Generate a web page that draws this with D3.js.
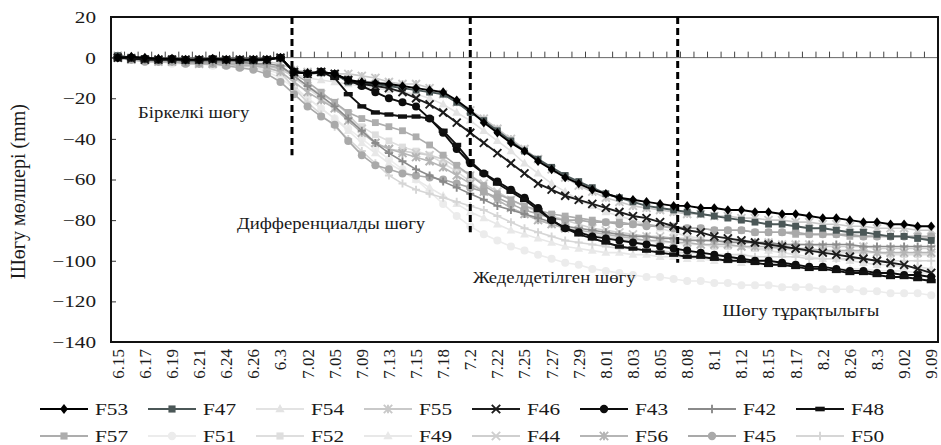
<!DOCTYPE html>
<html><head><meta charset="utf-8">
<script src="https://cdn.jsdelivr.net/npm/d3@7"></script>
<style>
body{margin:0;background:#fff}
svg{display:block}
svg text{font-family:"Liberation Serif","Times New Roman","DejaVu Serif",serif !important;fill:#1a1a1a}
</style>
</head><body>
<svg id="chart" width="941" height="445" font-family="Liberation Serif, Times New Roman, serif"></svg>
<script>
// ---------- DATA ----------
const categories = ["6.15","6.16","6.17","6.18","6.19","6.20","6.21","6.22","6.24","6.25","6.26","6.28","6.3","7.01","7.02","7.03","7.05","7.07","7.09","7.11","7.13","7.14","7.15","7.16","7.18","7.19","7.2","7.21","7.22","7.23","7.25","7.26","7.27","7.28","7.29","7.30","8.01","8.02","8.03","8.04","8.05","8.06","8.08","8.09","8.1","8.11","8.12","8.13","8.15","8.16","8.17","8.18","8.2","8.22","8.26","8.28","8.3","8.31","9.02","9.05","9.09"];
const tickLabels = ["6.15","6.17","6.19","6.21","6.24","6.26","6.3","7.02","7.05","7.09","7.13","7.15","7.18","7.2","7.22","7.25","7.27","7.29","8.01","8.03","8.05","8.08","8.1","8.12","8.15","8.17","8.2","8.26","8.3","9.02","9.09"];
const yTicks = [20,0,-20,-40,-60,-80,-100,-120,-140];

const F53 = [0,0.5,0,-0.5,-0.5,-1,-1,-0.5,-1,-1,-1,-1,0,-7,-7.5,-7,-8,-11,-12,-12.5,-13,-14,-15,-16,-17,-21,-26,-32,-37,-42,-46,-51,-55,-59,-62,-65,-67,-69,-70,-71,-72,-73,-73,-74,-74,-75,-75,-76,-76,-77,-77,-78,-79,-79,-80,-81,-81,-82,-82,-83,-83];
const F47 = [1,0,-0.5,-1,-1,-1.5,-1.5,-1,-1,-1.5,-1.5,-1,0,-7,-8,-7.5,-8,-12,-13,-13,-14,-15,-16,-17,-18,-22,-27,-31,-36,-41,-46,-50,-54,-58,-61,-64,-67,-69,-71,-73,-74,-75,-76,-77,-78,-79,-80,-81,-82,-82,-83,-84,-84,-85,-86,-86,-87,-88,-88,-89,-90];
const F54 = [0,-1,-1,-2,-2,-2,-3,-3,-3,-3,-4,-4,-5,-8,-10,-11,-12,-13,-14,-15,-16,-17,-18,-20,-23,-27,-31,-36,-41,-46,-52,-57,-62,-66,-70,-73,-76,-78,-80,-82,-84,-86,-88,-89,-91,-92,-93,-94,-95,-96,-97,-98,-99,-99,-100,-101,-102,-102,-103,-103,-104];
const F55 = [1,0,-1,-1,-1,-1,-2,-2,-2,-2,-2,-2,-3,-6,-7,-7,-8,-8,-9,-10,-12,-13,-13,-15,-18,-22,-26,-30,-35,-40,-45,-50,-55,-59,-63,-66,-69,-71,-73,-74,-75,-76,-77,-77,-78,-78,-79,-79,-80,-80,-81,-81,-82,-82,-83,-83,-84,-84,-84,-85,-85];
const F46 = [0,-0.5,-1,-1,-1,-1,-1,-1,-1,-1,-1,-1,0,-7,-8,-7,-8,-11,-13,-14,-15,-17,-20,-23,-27,-32,-37,-42,-47,-52,-57,-62,-65,-68,-70,-72,-74,-76,-78,-79,-81,-83,-85,-86,-88,-89,-90,-91,-92,-93,-94,-95,-96,-97,-98,-99,-100,-101,-102,-104,-106];
const F43 = [0,0,-0.5,-1,-0.5,-1,-1,-0.5,-1,-1,-1,-1,0,-7,-8,-7,-8,-11,-14,-17,-20,-22,-24,-30,-37,-45,-52,-57,-61,-65,-69,-74,-80,-84,-86,-88,-89,-90,-91,-92,-93,-94,-95,-96,-97,-98,-99,-100,-100,-101,-102,-103,-103,-104,-105,-105,-106,-106,-107,-107,-108];
const F42 = [0,0,-1,-1,-1,-2,-2,-2,-2,-2,-3,-3,-4,-9,-14,-19,-24,-30,-36,-42,-47,-51,-55,-58,-61,-64,-67,-70,-73,-75,-77,-79,-81,-83,-84,-85,-86,-87,-88,-88,-89,-89,-90,-90,-90,-91,-91,-91,-91,-92,-92,-92,-92,-92,-92,-93,-93,-93,-93,-93,-93];
const F48 = [0,-0.5,-1,-1,-1,-1,-1,-1,-1,-1,-1,-0.5,0,-7,-8,-7,-10,-18,-24,-27,-28,-29,-29,-30,-36,-43,-51,-57,-62,-66,-70,-75,-80,-84,-87,-89,-91,-93,-94,-95,-96,-97,-98,-98,-99,-100,-100,-101,-102,-102,-103,-104,-104,-105,-106,-106,-107,-108,-108,-109,-110];
const F57 = [1,0,-1,-1,-1,-2,-2,-2,-3,-3,-3,-4,-5,-8,-12,-17,-22,-27,-30,-32,-34,-36,-39,-43,-48,-53,-58,-63,-67,-70,-73,-75,-77,-78,-79,-80,-81,-81,-82,-82,-83,-83,-84,-84,-85,-85,-85,-86,-86,-86,-87,-87,-87,-87,-88,-88,-88,-88,-88,-89,-89];
const F51 = [0,-1,-2,-2,-3,-3,-3,-4,-4,-5,-5,-7,-10,-15,-20,-25,-30,-35,-40,-45,-50,-55,-60,-66,-72,-78,-83,-87,-90,-93,-95,-97,-99,-101,-102,-104,-105,-106,-107,-108,-108,-109,-110,-110,-111,-111,-112,-112,-112,-113,-113,-113,-114,-114,-114,-115,-115,-116,-116,-116,-117];
const F52 = [0,-1,-1,-1,-2,-2,-2,-3,-3,-3,-3,-4,-5,-10,-15,-20,-25,-30,-34,-38,-41,-44,-46,-48,-52,-56,-61,-66,-70,-74,-77,-80,-82,-84,-86,-87,-88,-89,-90,-90,-91,-91,-92,-92,-93,-93,-93,-94,-94,-94,-95,-95,-95,-96,-96,-96,-96,-97,-97,-97,-97];
const F49 = [0,-1,-1,-2,-2,-3,-3,-3,-4,-4,-5,-6,-8,-14,-20,-25,-30,-36,-42,-47,-52,-56,-60,-64,-68,-72,-76,-79,-82,-85,-87,-89,-91,-93,-94,-95,-96,-96,-97,-97,-98,-98,-99,-99,-100,-100,-101,-101,-102,-102,-103,-103,-103,-104,-104,-104,-105,-105,-105,-106,-106];
const F44 = [0,-1,-1,-1,-2,-2,-2,-3,-3,-3,-4,-4,-6,-9,-14,-18,-22,-28,-35,-42,-45,-46,-47,-48,-50,-54,-58,-62,-66,-70,-73,-76,-78,-80,-82,-84,-85,-86,-87,-88,-88,-89,-89,-90,-90,-90,-91,-91,-91,-92,-92,-92,-93,-93,-93,-93,-94,-94,-94,-94,-94];
const F56 = [0,-1,-1,-2,-2,-2,-3,-3,-3,-4,-4,-5,-7,-12,-17,-21,-25,-31,-37,-42,-45,-47,-49,-51,-54,-58,-62,-66,-70,-74,-77,-80,-82,-84,-85,-86,-87,-88,-89,-90,-90,-91,-91,-92,-92,-92,-93,-93,-93,-94,-94,-94,-95,-95,-95,-95,-96,-96,-96,-96,-96];
const F45 = [0,-1,-2,-2,-2,-3,-3,-3,-4,-5,-6,-8,-12,-18,-24,-29,-33,-41,-48,-53,-55,-57,-58,-59,-60,-62,-64,-66,-69,-72,-75,-77,-79,-80,-80,-81,-81,-82,-82,-83,-83,-84,-84,-84,-85,-85,-85,-86,-86,-86,-86,-87,-87,-87,-87,-88,-88,-88,-88,-88,-88];
const F50 = [0,-1,-1,-2,-2,-2,-3,-3,-3,-4,-4,-5,-7,-15,-22,-28,-34,-40,-46,-52,-58,-62,-65,-67,-69,-71,-73,-75,-78,-81,-84,-86,-88,-90,-91,-92,-93,-94,-94,-95,-95,-96,-96,-96,-97,-97,-97,-98,-98,-98,-98,-99,-99,-99,-99,-99,-100,-100,-100,-100,-100];

const seriesNames  = ["F53","F47","F54","F55","F46","F43","F42","F48","F57","F51","F52","F49","F44","F56","F45","F50"];
const seriesValues = [F53, F47, F54, F55, F46, F43, F42, F48, F57, F51, F52, F49, F44, F56, F45, F50];
const seriesColors = ["#000000","#4b5757","#e3e3e3","#c9c9c9","#1c1c1c","#0d0d0d","#8a8a8a","#111111","#adadad","#ececec","#dedede","#e8e8e8","#cfcfcf","#b5b5b5","#a9a9a9","#d6d6d6"];
const seriesMarkers = ["diamond","square","triangle","asterisk","times","circle","plus","dash","square","circle","square","triangle","times","asterisk","circle","plus"];

const phaseNames = ["Біркелкі шөгу","Дифференциалды шөгу","Жеделдетілген шөгу","Шөгу тұрақтылығы"];
const phaseBoundaries = ["7.01","7.2","8.06"];
const yTitle = "Шөгу мөлшері (mm)";

// ---------- LAYOUT ----------
const FONT = '"Liberation Serif","Times New Roman",serif';
const W = 941, H = 445;
const M = {left:111, right:3, top:17, bottom:103};
const svg = d3.select("#chart");
const x = d3.scaleBand().domain(categories).range([M.left, W - M.right]).padding(0);
const bw = x.bandwidth();
const xc = c => x(c) + bw/2;
const xi = i => M.left + (i + 0.5)*bw;
const y = d3.scaleLinear().domain([-140, 20]).range([H - M.bottom, M.top]);
const SX = 1.25;
const darkSet = ["F53","F47","F46","F43","F48"];

// zero line + category ticks
const y0 = y(0);
svg.append("line").attr("x1", M.left).attr("x2", W - M.right).attr("y1", y0).attr("y2", y0)
  .attr("stroke", "#666").attr("stroke-width", 1);
const bounds = categories.map(c => x(c)).concat([W - M.right]);
svg.append("g").selectAll("line").data(bounds).join("line")
  .attr("x1", d => d).attr("x2", d => d).attr("y1", y0).attr("y2", y0 - 6)
  .attr("stroke", "#444").attr("stroke-width", 1);

// y axis
const yAxis = d3.axisLeft(y).tickValues(yTicks).tickSizeInner(-5).tickSizeOuter(0).tickPadding(15)
  .tickFormat(d3.format("d"));
const gy = svg.append("g").attr("transform", `translate(${M.left},0)`).call(yAxis)
  .attr("font-family", FONT).attr("font-size", 17);
gy.select(".domain").remove();
gy.selectAll(".tick line").attr("stroke", "#333");
gy.selectAll(".tick text").attr("font-size", 17).attr("fill", "#1a1a1a").attr("font-family", FONT)
  .each(function(){
    const t = d3.select(this);
    const xx = +t.attr("x");
    t.attr("x", 0).attr("transform", `translate(${xx},0) scale(${SX},1)`);
  });

// x labels
svg.append("g").selectAll("text").data(categories.filter(c => tickLabels.includes(c))).join("text")
  .attr("transform", d => `translate(${xc(d)},${H - M.bottom + 7}) rotate(-90)`)
  .attr("text-anchor", "end").attr("dy", "0.35em").attr("font-size", 17).attr("font-family", FONT)
  .text(d => d);

// series
const line = d3.line().x((d, i) => xi(i)).y(d => y(d));
const drawOrder = ["F51","F49","F54","F52","F55","F50","F44","F56","F57","F45","F42","F47","F46","F43","F48","F53"];

function marker(g, type, color, cx, cy, s) {
  s = s || 1;
  if (type === "diamond") {
    g.append("path").attr("d", `M${cx},${cy-4.8*s}L${cx+3.8*s},${cy}L${cx},${cy+4.8*s}L${cx-3.8*s},${cy}Z`).attr("fill", color);
  } else if (type === "square") {
    g.append("rect").attr("x", cx-3.4*s).attr("y", cy-3.4*s).attr("width", 6.8*s).attr("height", 6.8*s).attr("fill", color);
  } else if (type === "triangle") {
    g.append("path").attr("d", `M${cx},${cy-4.8*s}L${cx+4.4*s},${cy+3.2*s}L${cx-4.4*s},${cy+3.2*s}Z`).attr("fill", color);
  } else if (type === "circle") {
    g.append("circle").attr("cx", cx).attr("cy", cy).attr("r", 4*s).attr("fill", color);
  } else if (type === "dash") {
    g.append("rect").attr("x", cx-4.5*s).attr("y", cy-2.2*s).attr("width", 9*s).attr("height", 4.4*s).attr("fill", color);
  } else {
    const r = 4*s;
    let d = "";
    if (type === "plus") d = `M${cx-r},${cy}H${cx+r}M${cx},${cy-r}V${cy+r}`;
    if (type === "times") d = `M${cx-r},${cy-r}L${cx+r},${cy+r}M${cx-r},${cy+r}L${cx+r},${cy-r}`;
    if (type === "asterisk") d = `M${cx-r},${cy-r}L${cx+r},${cy+r}M${cx-r},${cy+r}L${cx+r},${cy-r}M${cx},${cy-r}V${cy+r}`;
    g.append("path").attr("d", d).attr("stroke", color).attr("stroke-width", 1.9).attr("fill", "none");
  }
}

const plot = svg.append("g");
drawOrder.forEach(name => {
  const k = seriesNames.indexOf(name);
  const vals = seriesValues[k];
  const g = plot.append("g");
  g.append("path").datum(vals).attr("d", line).attr("fill", "none")
    .attr("stroke", seriesColors[k]).attr("stroke-width", darkSet.includes(name) ? 1.9 : 1.6);
  vals.forEach((v, i) => marker(g, seriesMarkers[k], seriesColors[k], xi(i), y(v), 1));
});

// frame
svg.append("rect").attr("x", M.left).attr("y", M.top)
  .attr("width", W - M.right - M.left).attr("height", H - M.bottom - M.top)
  .attr("fill", "none").attr("stroke", "#111").attr("stroke-width", 2);

// phase dashed lines
const phaseOffsets = [-0.15, 0, 0.3];
const phaseEnds = [-48, -86, -101];
phaseBoundaries.forEach((c, j) => {
  const px = xc(c) + phaseOffsets[j]*bw;
  svg.append("line").attr("x1", px).attr("x2", px).attr("y1", M.top).attr("y2", y(phaseEnds[j]))
    .attr("stroke", "#000").attr("stroke-width", 3).attr("stroke-dasharray", "7,4");
});

// phase labels
const phasePos = [[1.5, -27], [8.8, -81.5], [26.2, -108], [44.6, -124.4]];
phaseNames.forEach((t, j) => {
  svg.append("text").attr("transform", `translate(${xi(phasePos[j][0])},${y(phasePos[j][1])}) scale(1.1,1)`)
    .attr("dy", "0.35em").attr("font-size", 17).attr("font-family", FONT).text(t);
});

// y title
svg.append("text").attr("transform", `translate(18,${y(-66)}) rotate(-90)`)
  .attr("text-anchor", "middle").attr("dy", "0.35em").attr("font-size", 20).attr("font-family", FONT).text(yTitle);

// legend
const legend = svg.append("g");
seriesNames.forEach((name, k) => {
  const col = k % 8, row = Math.floor(k / 8);
  const lx = 40 + col*108, ly = 409 + row*27;
  const g = legend.append("g");
  g.append("line").attr("x1", lx).attr("x2", lx + 48).attr("y1", ly).attr("y2", ly)
    .attr("stroke", seriesColors[k]).attr("stroke-width", 1.8);
  marker(g, seriesMarkers[k], seriesColors[k], lx + 24, ly, 1.05);
  g.append("text").attr("transform", `translate(${lx + 55},${ly}) scale(${SX},1)`)
    .attr("dy", "0.35em").attr("font-size", 17).attr("font-family", FONT).text(name);
});
</script>
</body></html>
